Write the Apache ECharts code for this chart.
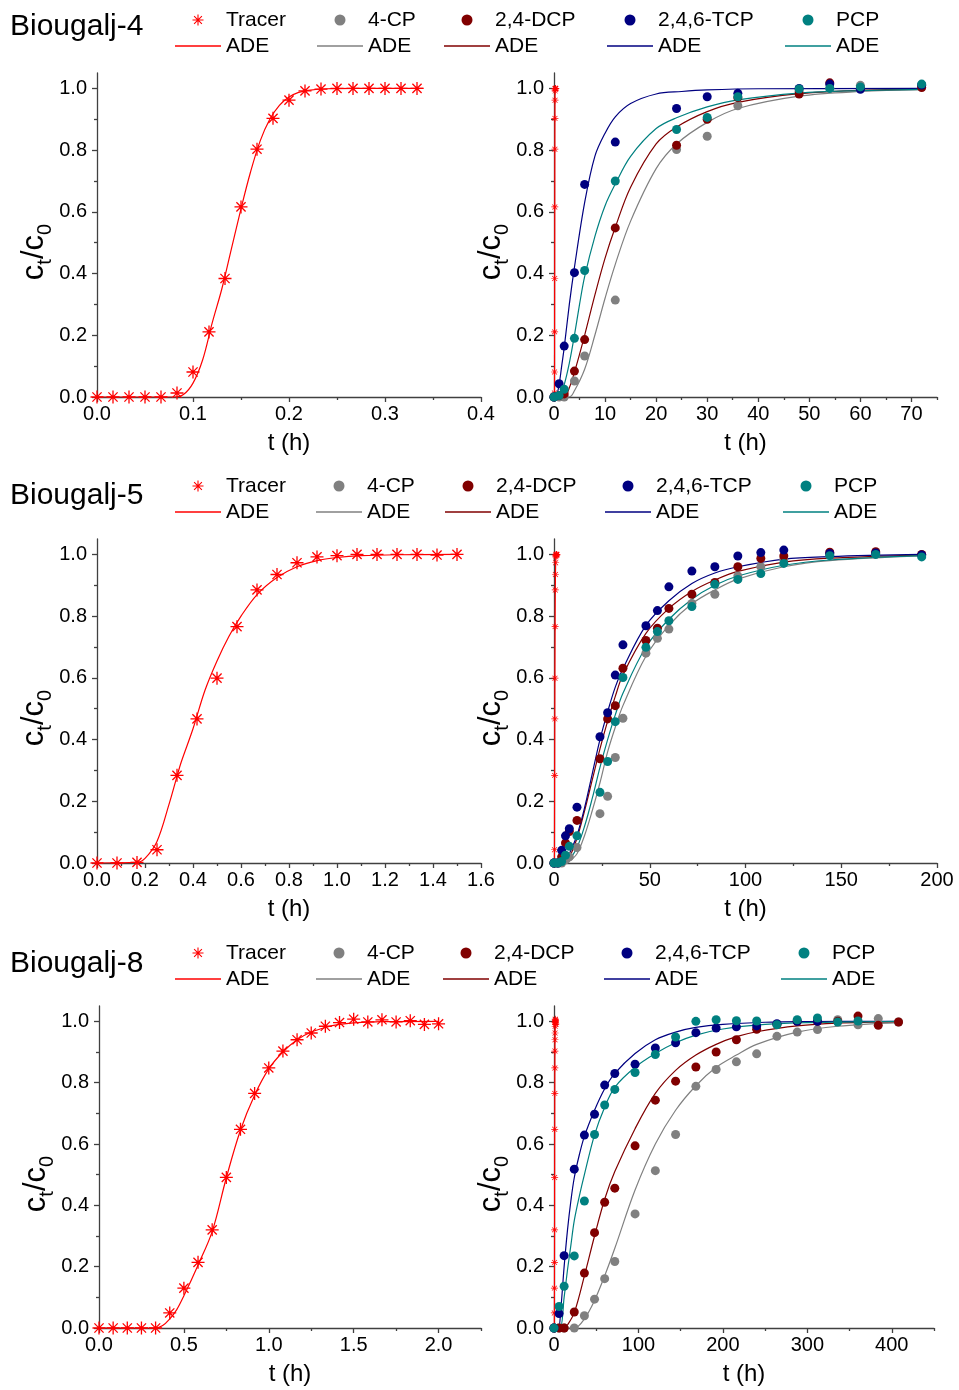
<!DOCTYPE html>
<html>
<head>
<meta charset="utf-8">
<script src="https://cdn.jsdelivr.net/npm/echarts@6/dist/echarts.min.js"></script>
<style>
  html, body { margin: 0; padding: 0; background: #fff; }
  #chart { width: 959px; height: 1390px; }
</style>
</head>
<body>
<div id="chart"></div>
<script>
// ===================== Measured data =====================
// Sampling times of the tracer (minutes) and relative concentrations c_t/c_0
const b4TracerMin = [0,1,2,3,4,5,6,7,8,9,10,11,12,13,14,15,16,17,18,19,20];
const b4TracerC   = [0,0,0,0,0,0.013,0.081,0.211,0.384,0.616,0.803,0.903,0.962,0.992,0.998,1,1,1,1,1,1];
const b5TracerMin = [0,5,10,15,20,25,30,35,40,45,50,55,60,65,70,75,80,85,90];
const b5TracerC   = [0,0,0.002,0.043,0.284,0.467,0.599,0.766,0.885,0.935,0.973,0.992,0.996,1,1,1,1,0.998,1];
const b8TracerMin = [0,5,10,15,20,25,30,35,40,45,50,55,60,65,70,75,80,85,90,95,100,105,110,115,120];
const b8TracerC   = [0,0,0,0,0,0.049,0.13,0.214,0.32,0.491,0.648,0.765,0.848,0.903,0.94,0.962,0.984,0.996,1.007,0.998,1.005,0.998,1.002,0.99,0.992];

// Fitted ADE curves of the tracer (time in h)
const b4TracerFitT = [0,0.08,0.09,0.10,0.11,0.12,0.13,0.14,0.15,0.16,0.17,0.18,0.19,0.20,0.21,0.22,0.24,0.27,0.34];
const b4TracerFitC = [0,0,0.008,0.045,0.12,0.24,0.35,0.48,0.61,0.73,0.83,0.90,0.945,0.972,0.987,0.994,0.999,1,1];
const b5TracerFitT = [0,0.167,0.2,0.25,0.3,0.333,0.35,0.4,0.45,0.5,0.55,0.6,0.667,0.75,0.833,0.917,1.0,1.1,1.25,1.5];
const b5TracerFitC = [0,0.002,0.015,0.07,0.19,0.28,0.325,0.435,0.56,0.655,0.735,0.80,0.87,0.925,0.96,0.98,0.99,0.996,0.999,1];
const b8TracerFitT = [0,0.333,0.375,0.417,0.458,0.5,0.583,0.667,0.75,0.833,0.917,1.0,1.083,1.167,1.25,1.333,1.417,1.5,1.667,2.0];
const b8TracerFitC = [0,0,0.008,0.03,0.06,0.105,0.205,0.315,0.49,0.645,0.76,0.845,0.9,0.94,0.965,0.98,0.99,0.995,0.999,1];

// Chlorophenols, Biougalj-4 (time in h)
const b4Times = [0,1,2,4,6,12,24,30,36,48,54,60,72];
const b4CP    = [0,0,0,0.052,0.133,0.314,0.802,0.845,0.944,0.99,1.0,1.01,1.01];
const b4DCP   = [0,0.005,0.01,0.084,0.186,0.548,0.816,0.9,0.97,0.982,1.018,1.0,1.003];
const b4TCP   = [0,0.043,0.165,0.403,0.689,0.826,0.935,0.973,0.984,1.0,1.014,0.997,1.011];
const b4PCP   = [0,0.005,0.025,0.19,0.41,0.70,0.867,0.906,0.973,0.998,1.0,1.005,1.014];
const b4CPFitT  = [0,3,4,6,8,10,12,15,20,24,30,36,48,60,72];
const b4CPFitC  = [0,0,0.02,0.09,0.2,0.32,0.43,0.57,0.74,0.82,0.89,0.935,0.975,0.99,0.996];
const b4DCPFitT = [0,2,3,4,6,8,10,12,15,20,24,30,36,48,60,72];
const b4DCPFitC = [0,0,0.03,0.08,0.2,0.33,0.45,0.55,0.68,0.82,0.875,0.925,0.955,0.983,0.994,0.998];
const b4TCPFitT = [0,0.5,1,1.5,2,3,4,6,8,10,12,15,20,25,30,40,72];
const b4TCPFitC = [0,0.005,0.04,0.1,0.16,0.30,0.42,0.63,0.78,0.855,0.908,0.951,0.982,0.99,0.995,0.999,1];
const b4PCPFitT = [0,1,2,3,4,5,6,8,10,12,15,20,24,30,36,48,60,72];
const b4PCPFitC = [0,0,0.04,0.11,0.2,0.3,0.39,0.52,0.62,0.69,0.78,0.87,0.905,0.94,0.963,0.985,0.993,0.997];

// Chlorophenols, Biougalj-5 (time in h)
const b5Times = [0,2,4,6,8,12,24,28,32,36,48,54,60,72,84,96,108,120,144,168,192];
const b5CP    = [0,0,0,0.01,0.02,0.05,0.16,0.216,0.342,0.469,0.68,0.728,0.758,0.841,0.871,0.93,0.96,0.984,0.998,1.0,0.998];
const b5DCP   = [0,0,0.02,0.065,0.102,0.138,0.338,0.467,0.51,0.631,0.721,0.761,0.825,0.871,0.909,0.96,0.987,0.995,1.007,1.009,1.0];
const b5TCP   = [0,0,0.041,0.088,0.111,0.181,0.409,0.487,0.609,0.707,0.769,0.818,0.895,0.946,0.96,0.995,1.006,1.014,1.003,1.005,0.998];
const b5PCP   = [0,0,0.005,0.025,0.054,0.088,0.229,0.329,0.458,0.601,0.699,0.75,0.785,0.831,0.903,0.919,0.938,0.971,0.996,1.0,0.992];
const b5CPFitT  = [0,6,8,12,16,20,24,28,32,36,48,60,72,84,96,120,144,192];
const b5CPFitC  = [0,0,0.005,0.03,0.09,0.17,0.26,0.36,0.44,0.51,0.67,0.77,0.84,0.885,0.92,0.96,0.98,0.995];
const b5DCPFitT = [0,4,8,12,16,20,24,28,32,36,48,60,72,84,96,120,144,192];
const b5DCPFitC = [0,0,0.02,0.08,0.17,0.27,0.37,0.46,0.54,0.61,0.744,0.825,0.88,0.917,0.945,0.975,0.988,0.998];
const b5TCPFitT = [0,4,6,8,12,16,20,24,28,32,36,48,60,72,84,96,120,144,192];
const b5TCPFitC = [0,0,0.01,0.03,0.09,0.18,0.29,0.40,0.49,0.57,0.63,0.77,0.85,0.906,0.94,0.96,0.985,0.993,1.0];
const b5PCPFitT = [0,6,8,12,16,20,24,28,32,36,48,60,72,84,96,120,144,192];
const b5PCPFitC = [0,0,0.01,0.05,0.12,0.21,0.31,0.40,0.48,0.55,0.70,0.79,0.855,0.9,0.93,0.965,0.982,0.996];

// Chlorophenols, Biougalj-8 (time in h)
const b8Times = [0,6,12,24,36,48,60,72,96,120,144,168,192,216,240,264,288,312,336,360,384,408];
const b8CP    = [0,0,0,0,0.04,0.094,0.161,0.217,0.372,0.513,0.631,0.788,0.843,0.868,0.894,0.951,0.965,0.973,1.005,0.989,1.009,0.998];
const b8DCP   = [0,0,0,0.052,0.179,0.311,0.41,0.456,0.594,0.743,0.805,0.851,0.9,0.94,0.974,0.99,1.0,1.0,1.0,1.017,0.987,0.998];
const b8TCP   = [0,0.047,0.236,0.518,0.629,0.697,0.792,0.83,0.86,0.913,0.93,0.963,0.978,0.982,0.985,0.992,1.0,1.0,null,null,null,null];
const b8PCP   = [0,0.07,0.136,0.235,0.414,0.631,0.727,0.778,0.833,0.892,0.949,1.0,1.005,1.002,1.001,0.989,1.005,1.011,0.998,1.001,null,null];
const b8CPFitT  = [0,24,36,48,60,72,96,120,144,168,192,216,240,288,336,408];
const b8CPFitC  = [0,0,0.03,0.09,0.17,0.26,0.45,0.6,0.71,0.79,0.85,0.89,0.925,0.965,0.984,0.996];
const b8DCPFitT = [0,12,16,24,36,48,60,72,96,120,144,168,192,216,240,288,336,408];
const b8DCPFitC = [0,0,0.01,0.05,0.17,0.3,0.42,0.51,0.65,0.765,0.84,0.89,0.925,0.95,0.966,0.985,0.994,0.999];
const b8TCPFitT = [0,5,8,12,16,20,24,30,36,48,60,72,96,120,144,168,200,250,300,408];
const b8TCPFitC = [0,0,0.06,0.2,0.32,0.415,0.49,0.565,0.625,0.71,0.78,0.83,0.895,0.94,0.965,0.98,0.99,0.997,0.999,1];
const b8PCPFitT = [0,7,12,16,20,24,30,36,48,60,72,96,120,144,168,200,250,300,408];
const b8PCPFitC = [0,0,0.1,0.19,0.27,0.35,0.43,0.5,0.63,0.72,0.785,0.85,0.895,0.93,0.955,0.975,0.99,0.996,1];

// ===================== Axis ticks =====================
const yMajorTicks = [0,0.2,0.4,0.6,0.8,1.0];
const yMinorTicks = [0.1,0.3,0.5,0.7,0.9];
const x4LMajor = [0,0.1,0.2,0.3,0.4],            x4LMinor = [0.05,0.15,0.25,0.35];
const x4RMajor = [0,10,20,30,40,50,60,70],        x4RMinor = [5,15,25,35,45,55,65,75];
const x5LMajor = [0,0.2,0.4,0.6,0.8,1.0,1.2,1.4,1.6], x5LMinor = [0.1,0.3,0.5,0.7,0.9,1.1,1.3,1.5];
const x5RMajor = [0,50,100,150,200],             x5RMinor = [25,75,125,175];
const x8LMajor = [0,0.5,1.0,1.5,2.0],            x8LMinor = [0.25,0.75,1.25,1.75,2.25];
const x8RMajor = [0,100,200,300,400],            x8RMinor = [50,150,250,350,450];

const compoundNames = ['4-CP','2,4-DCP','2,4,6-TCP','PCP'];
const siteNames = ['Biougalj-4','Biougalj-5','Biougalj-8'];

// ===================== Styling =====================
const FONT = '"Liberation Sans", Arial, Helvetica, sans-serif';
const COLORS = { 'Tracer': '#ff0000', '4-CP': '#808080', '2,4-DCP': '#800000', '2,4,6-TCP': '#000080', 'PCP': '#008080' };
const AXIS_COLOR = '#404040';
// eight-armed asterisk marker
const STAR = 'path://M45 0H55V100H45Z M0 45H100V55H0Z M18.1 11.1L88.9 81.9L81.9 88.9L11.1 18.1Z M88.9 18.1L18.1 88.9L11.1 81.9L81.9 11.1Z';
// plain stroke used as legend key of the fitted curves
const LINE_ICON = 'path://M0 0H46V1.3H0Z';

const pairs = (xs, ys) => xs.map((x, i) => [x, ys[i]]).filter(p => p[1] !== null);
const minToH = m => m.map(v => v / 60);

const rows = [
  {
    tracer: pairs(minToH(b4TracerMin), b4TracerC),
    tracerFit: pairs(b4TracerFitT, b4TracerFitC),
    comps: [pairs(b4Times, b4CP), pairs(b4Times, b4DCP), pairs(b4Times, b4TCP), pairs(b4Times, b4PCP)],
    fits: [pairs(b4CPFitT, b4CPFitC), pairs(b4DCPFitT, b4DCPFitC), pairs(b4TCPFitT, b4TCPFitC), pairs(b4PCPFitT, b4PCPFitC)],
    left:  { grid: {left: 97, top: 73, width: 384, height: 324}, max: 0.4, interval: 0.1, major: x4LMajor, minor: x4LMinor, digits: 1 },
    right: { grid: {left: 554, top: 73, width: 383, height: 324}, max: 75, interval: 10, major: x4RMajor, minor: x4RMinor, digits: 0 },
    titleTop: 12, legendTop: 9.5, legendLeft: [175, 317, 444, 607, 785]
  },
  {
    tracer: pairs(minToH(b5TracerMin), b5TracerC),
    tracerFit: pairs(b5TracerFitT, b5TracerFitC),
    comps: [pairs(b5Times, b5CP), pairs(b5Times, b5DCP), pairs(b5Times, b5TCP), pairs(b5Times, b5PCP)],
    fits: [pairs(b5CPFitT, b5CPFitC), pairs(b5DCPFitT, b5DCPFitC), pairs(b5TCPFitT, b5TCPFitC), pairs(b5PCPFitT, b5PCPFitC)],
    left:  { grid: {left: 97, top: 539, width: 384, height: 324}, max: 1.6, interval: 0.2, major: x5LMajor, minor: x5LMinor, digits: 1 },
    right: { grid: {left: 554, top: 539, width: 383, height: 324}, max: 200, interval: 50, major: x5RMajor, minor: x5RMinor, digits: 0 },
    titleTop: 481, legendTop: 475.5, legendLeft: [175, 316, 445, 605, 783]
  },
  {
    tracer: pairs(minToH(b8TracerMin), b8TracerC),
    tracerFit: pairs(b8TracerFitT, b8TracerFitC),
    comps: [pairs(b8Times, b8CP), pairs(b8Times, b8DCP), pairs(b8Times, b8TCP), pairs(b8Times, b8PCP)],
    fits: [pairs(b8CPFitT, b8CPFitC), pairs(b8DCPFitT, b8DCPFitC), pairs(b8TCPFitT, b8TCPFitC), pairs(b8PCPFitT, b8PCPFitC)],
    left:  { grid: {left: 99, top: 1006, width: 382, height: 322}, max: 2.25, interval: 0.5, major: x8LMajor, minor: x8LMinor, digits: 1 },
    right: { grid: {left: 554, top: 1006, width: 380, height: 322}, max: 450, interval: 100, major: x8RMajor, minor: x8RMinor, digits: 0 },
    titleTop: 949, legendTop: 942.5, legendLeft: [175, 316, 443, 604, 781]
  }
];

const grid = [], xAxis = [], yAxis = [], series = [], legend = [], title = [];

const yName = '{c|c}{s|t}{c|/c}{s|0}';
const yNameStyle = {
  padding: [0, 34, 0, 0],
  rich: {
    c: { fontSize: 31, fontFamily: FONT, color: '#000', lineHeight: 36, verticalAlign: 'top' },
    s: { fontSize: 20, fontFamily: FONT, color: '#000', lineHeight: 20, verticalAlign: 'bottom' }
  }
};

function addPanel(panel, gi) {
  grid.push(Object.assign({ containLabel: false }, panel.grid));
  const base = gi * 2;
  // main x axis with labels and major ticks
  xAxis.push({
    type: 'value', gridIndex: gi, position: 'bottom', min: 0, max: panel.max, interval: panel.interval,
    name: 't (h)', nameLocation: 'middle', nameGap: 34,
    nameTextStyle: { fontSize: 24, fontFamily: FONT, color: '#000' },
    axisLine: { show: true, onZero: false, lineStyle: { color: AXIS_COLOR, width: 1.3 } },
    axisTick: { show: true, length: 5, customValues: panel.major, lineStyle: { color: AXIS_COLOR, width: 1.3 } },
    axisLabel: { show: true, customValues: panel.major, margin: 7, fontSize: 20, fontFamily: FONT, color: '#000',
                 formatter: v => Number(v).toFixed(panel.digits) },
    splitLine: { show: false }
  });
  // companion x axis carrying minor ticks
  xAxis.push({
    type: 'value', gridIndex: gi, position: 'bottom', min: 0, max: panel.max,
    axisLine: { show: false, onZero: false },
    axisTick: { show: true, length: 3, customValues: panel.minor, lineStyle: { color: AXIS_COLOR, width: 1.3 } },
    axisLabel: { show: false }, splitLine: { show: false }
  });
  yAxis.push({
    type: 'value', gridIndex: gi, position: 'left', min: 0, max: 1.05, interval: 0.2,
    name: yName, nameLocation: 'middle', nameGap: 41, nameRotate: 90, nameTextStyle: yNameStyle,
    axisLine: { show: true, onZero: false, lineStyle: { color: AXIS_COLOR, width: 1.3 } },
    axisTick: { show: true, length: 5, customValues: yMajorTicks, lineStyle: { color: AXIS_COLOR, width: 1.3 } },
    axisLabel: { show: true, customValues: yMajorTicks, margin: 10, fontSize: 20, fontFamily: FONT, color: '#000',
                 formatter: v => Number(v).toFixed(1) },
    splitLine: { show: false }
  });
  yAxis.push({
    type: 'value', gridIndex: gi, position: 'left', min: 0, max: 1.05,
    axisLine: { show: false, onZero: false },
    axisTick: { show: true, length: 3, customValues: yMinorTicks, lineStyle: { color: AXIS_COLOR, width: 1.3 } },
    axisLabel: { show: false }, splitLine: { show: false }
  });
  return base;
}

function lineSeries(name, data, ax, color) {
  return {
    type: 'line', name, data, xAxisIndex: ax, yAxisIndex: ax,
    symbol: 'none', smooth: 0.35, clip: true,
    lineStyle: { color, width: 1.2 }, itemStyle: { color }, z: 2, silent: true
  };
}
function scatterSeries(name, data, ax, color, symbol, size) {
  return {
    type: 'scatter', name, data, xAxisIndex: ax, yAxisIndex: ax,
    symbol, symbolSize: size, itemStyle: { color, opacity: 1 }, z: 3, silent: true
  };
}

rows.forEach((row, r) => {
  // left panel: tracer breakthrough
  const aL = addPanel(row.left, r * 2);
  series.push(lineSeries('Tracer ADE', row.tracerFit, aL, COLORS['Tracer']));
  series.push(scatterSeries('Tracer', row.tracer, aL, COLORS['Tracer'], STAR, 13));

  // right panel: tracer plus the four chlorophenols
  const aR = addPanel(row.right, r * 2 + 1);
  series.push(lineSeries('Tracer ADE', row.tracerFit, aR, COLORS['Tracer']));
  compoundNames.forEach((nm, k) => series.push(lineSeries(nm + ' ADE', row.fits[k], aR, COLORS[nm])));
  series.push(scatterSeries('Tracer', row.tracer, aR, COLORS['Tracer'], STAR, 7));
  compoundNames.forEach((nm, k) => series.push(scatterSeries(nm, row.comps[k], aR, COLORS[nm], 'circle', 9)));

  title.push({
    text: siteNames[r], left: 10, top: row.titleTop, padding: 0,
    textStyle: { fontSize: 30, fontWeight: 'normal', fontFamily: FONT, color: '#000' }
  });

  ['Tracer'].concat(compoundNames).forEach((nm, k) => {
    legend.push({
      orient: 'vertical', left: row.legendLeft[k], top: row.legendTop, padding: 0,
      itemWidth: 46, itemHeight: 11, itemGap: 5, selectedMode: false, align: 'left',
      data: [{ name: nm, icon: nm === 'Tracer' ? STAR : 'circle' }, { name: nm + ' ADE', icon: LINE_ICON }],
      formatter: n => (n.endsWith(' ADE') ? 'ADE' : n),
      textStyle: { fontSize: 21, fontFamily: FONT, color: '#000' }
    });
  });
});

const chart = echarts.init(document.getElementById('chart'), null, { renderer: 'canvas' });
chart.setOption({
  backgroundColor: '#fff',
  animation: false,
  title, legend, grid, xAxis, yAxis, series
});
</script>
</body>
</html>
